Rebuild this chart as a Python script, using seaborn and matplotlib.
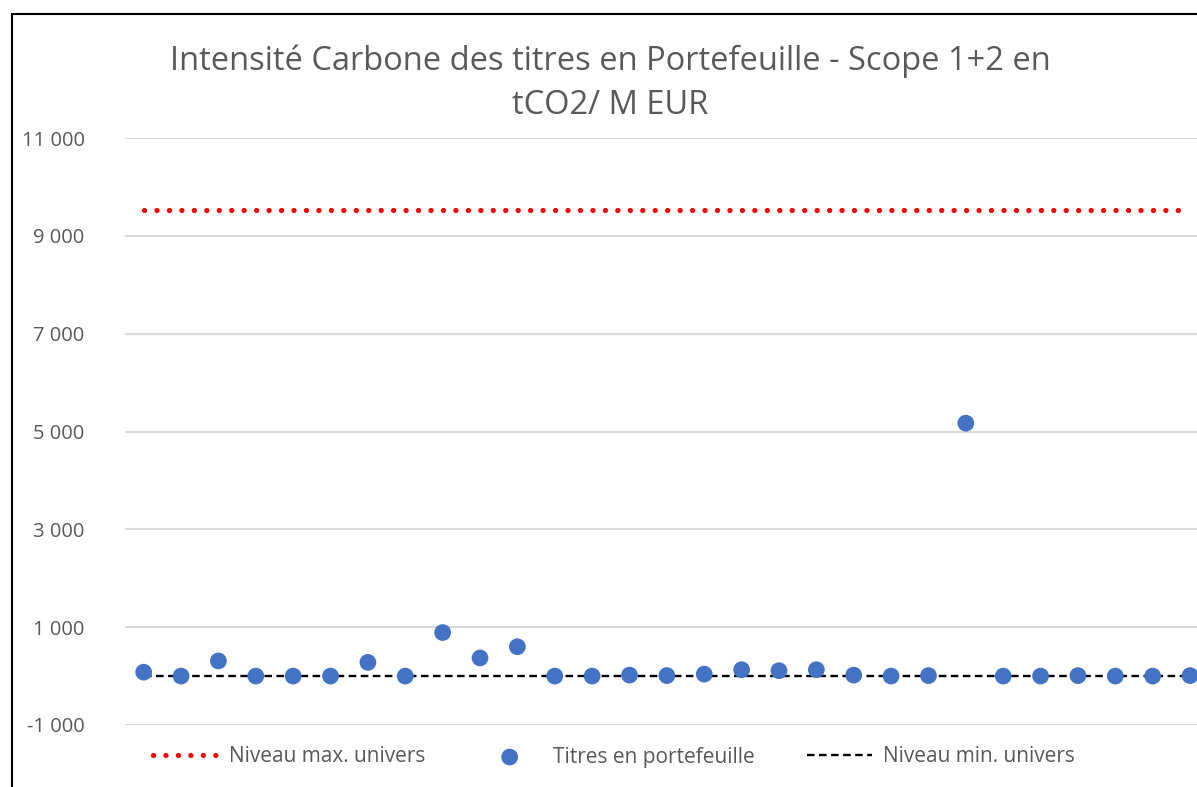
"""
Recreate the carbon intensity chart (scope 1+2, tCO2 / M EUR) for the
portfolio holdings, with the universe min and max levels as reference
lines.  Output is written to out.png.
"""

import matplotlib.pyplot as plt
import matplotlib.patches as mpatches
import seaborn as sns
import numpy as np
import pandas as pd

# Data
titres = [80, 0, 310, 0, 0, 0, 280, 0, 890, 370, 600, 0, 0,
          20, 10, 40, 130, 110, 130, 20, 0, 10, 5170, 0, 0, 10, 0, 0, 10]
niveau_max = 9520
niveau_min = 0
y_ticks = [-1000, 1000, 3000, 5000, 7000, 9000, 11000]

TITLE = "Intensité Carbone des titres en Portefeuille - Scope 1+2 en\ntCO2/ M EUR"
LABEL_MAX = "Niveau max. univers"
LABEL_TITRES = "Titres en portefeuille"
LABEL_MIN = "Niveau min. univers"

TEXT_GREY = "#595959"
BLUE = "#4472C4"


def fmt_thousands(v, _pos=None):
    s = f"{abs(int(v)):,}".replace(",", " ")
    return ("-" if v < 0 else "") + s


def main():
    sns.set_style("white")
    plt.rcParams["font.family"] = ["Open Sans", "DejaVu Sans"]

    n = len(titres)
    df = pd.DataFrame({
        "idx": np.arange(n),
        "titres": titres,
        "max": [niveau_max] * n,
        "min": [niveau_min] * n,
    })

    fig = plt.figure(figsize=(11.97, 7.87), dpi=100)
    W, H = 1197, 787
    left_px, right_px = 125, 125 + n * 37.37
    top_px, bottom_px = 138, 725
    ax = fig.add_axes([left_px / W, 1 - bottom_px / H,
                       (right_px - left_px) / W, (bottom_px - top_px) / H])

    # reference lines
    sns.lineplot(data=df, x="idx", y="max", ax=ax, color="#FF0000",
                 linewidth=3.8, linestyle=(0, (0.01, 2.35)),
                 dash_capstyle="round", label=LABEL_MAX, zorder=2)
    sns.scatterplot(data=df, x="idx", y="titres", ax=ax, color=BLUE,
                    s=145, edgecolor="none", label=LABEL_TITRES, zorder=4)
    sns.lineplot(data=df, x="idx", y="min", ax=ax, color="black",
                 linewidth=1.7, linestyle=(0, (3.2, 1.9)),
                 label=LABEL_MIN, zorder=3)

    ax.set_xlim(-0.5, n - 0.5)
    ax.set_ylim(-1000, 11000)
    ax.set_yticks(y_ticks)
    ax.yaxis.set_major_formatter(plt.FuncFormatter(fmt_thousands))
    ax.set_xticks([])
    ax.set_xlabel("")
    ax.set_ylabel("")
    ax.grid(axis="y", color="#D9D9D9", linewidth=1.5)
    ax.set_axisbelow(True)
    for sp in ax.spines.values():
        sp.set_visible(False)
    ax.tick_params(axis="y", length=0, pad=29, labelsize=14.5,
                   labelcolor=TEXT_GREY)

    # legend below the plot
    handles, labels = ax.get_legend_handles_labels()
    ax.get_legend().remove()
    fig.legend(handles, labels, loc="center", ncol=3,
               bbox_to_anchor=(614 / W, 1 - 757 / H), frameon=False,
               fontsize=15, labelcolor=TEXT_GREY, handlelength=3.1,
               handletextpad=0.55, columnspacing=2.5)

    # title
    fig.text(610 / W, 1 - 83 / H, TITLE, ha="center", va="center",
             fontsize=23.5, color=TEXT_GREY, linespacing=1.45)

    # chart frame (only left and top edges visible in the crop)
    fig.patches.append(mpatches.Rectangle(
        (11.5 / W, -0.2), 2.0, 1.2 - 13.5 / H,
        transform=fig.transFigure, fill=False, edgecolor="black",
        linewidth=1.5))

    fig.savefig("out.png", dpi=100)
    plt.close(fig)


if __name__ == "__main__":
    main()
